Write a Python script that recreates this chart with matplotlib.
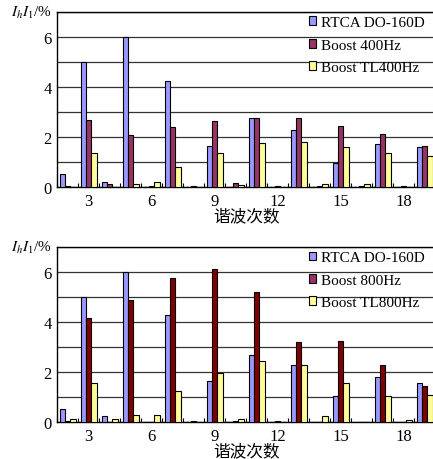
import matplotlib
matplotlib.use("Agg")
import matplotlib.pyplot as plt
from matplotlib.patches import Patch
import numpy as np

plt.rcParams['font.family'] = ['Liberation Serif', 'DejaVu Serif']
plt.rcParams['mathtext.fontset'] = 'stix'

harmonics = list(range(2, 20))
tick_labels = [3, 6, 9, 12, 15, 18]

rtca = [0.52, 4.98, 0.2, 6.0, 0.02, 4.25, 0.02, 1.64, 0.02, 2.77, 0.02, 2.28, 0.02, 0.98, 0.02, 1.71, 0.02, 1.6]
boost400 = [0.03, 2.67, 0.12, 2.07, 0.03, 2.4, 0.03, 2.63, 0.18, 2.77, 0.03, 2.77, 0.03, 2.44, 0.03, 2.13, 0.03, 1.66]
tl400 = [0.0, 1.36, 0.02, 0.12, 0.21, 0.81, 0.02, 1.36, 0.1, 1.77, 0.0, 1.81, 0.12, 1.6, 0.12, 1.36, 0.0, 1.24]

rtca_b = [0.52, 4.99, 0.23, 6.0, 0.02, 4.29, 0.0, 1.65, 0.0, 2.68, 0.0, 2.29, 0.0, 1.04, 0.0, 1.79, 0.0, 1.55]
boost800 = [0.05, 4.16, 0.02, 4.9, 0.02, 5.75, 0.05, 6.12, 0.05, 5.21, 0.05, 3.19, 0.0, 3.25, 0.0, 2.28, 0.0, 1.43]
tl800 = [0.12, 1.55, 0.12, 0.29, 0.29, 1.25, 0.0, 1.96, 0.12, 2.45, 0.0, 2.29, 0.23, 1.55, 0.0, 1.04, 0.1, 1.08]

labels_top = ['RTCA DO-160D', 'Boost 400Hz', 'Boost TL400Hz']
labels_bot = ['RTCA DO-160D', 'Boost 800Hz', 'Boost TL800Hz']

c_blue = '#9999FF'
c_purple = '#993366'
c_dark = '#800000'
c_yellow = '#FFFF99'

fig = plt.figure(figsize=(4.33, 4.6), dpi=100)
ax1 = fig.add_axes([0.132, 0.591, 0.873, 0.381])
ax2 = fig.add_axes([0.132, 0.080, 0.873, 0.381])

def draw(ax, s1, s2, s3, c2, labels):
    x = np.array(harmonics)
    w = 0.25
    ax.bar(x - w, s1, w, color=c_blue, edgecolor='black', linewidth=0.8, zorder=3)
    ax.bar(x, s2, w, color=c2, edgecolor='black', linewidth=0.8, zorder=3)
    ax.bar(x + w, s3, w, color=c_yellow, edgecolor='black', linewidth=0.8, zorder=3)
    ax.set_xlim(1.5, 19.5)
    ax.set_ylim(0, 7)
    ax.set_yticks([0, 2, 4, 6])
    ax.set_yticks(range(0, 8), minor=True)
    ax.yaxis.grid(True, which='both', color='#333333', linewidth=0.9, zorder=0)
    ax.set_xticks(tick_labels)
    ax.set_xticklabels([str(t) for t in tick_labels])
    ax.set_xticks(np.arange(1.5, 20, 1), minor=True)
    ax.tick_params(axis='x', which='major', length=0, labelsize=12, pad=4)
    ax.tick_params(axis='x', which='minor', direction='in', length=3, width=0.8)
    ax.tick_params(axis='y', which='both', length=0, labelsize=12, pad=4)
    for s in ['left', 'bottom', 'top']:
        ax.spines[s].set_linewidth(1.0)
    ax.spines['right'].set_visible(False)
    ax.set_xlabel('谐波次数', family=['Noto Sans CJK SC'], fontsize=12, labelpad=-1)
    ax.text(-0.015, 1.0, r'$I_hI_1$/%', transform=ax.transAxes, ha='right', va='center', fontsize=11)
    handles = [Patch(facecolor=c_blue, edgecolor='black', linewidth=0.8),
               Patch(facecolor=c_purple, edgecolor='black', linewidth=0.8),
               Patch(facecolor=c_yellow, edgecolor='black', linewidth=0.8)]
    leg = ax.legend(handles, labels, loc='upper left', bbox_to_anchor=(0.665, 0.975),
                    frameon=False, fontsize=11, handlelength=0.5, handleheight=0.5,
                    handletextpad=0.3, labelspacing=0.62, borderpad=0, borderaxespad=0)

draw(ax1, rtca, boost400, tl400, c_purple, labels_top)
draw(ax2, rtca_b, boost800, tl800, c_dark, labels_bot)

fig.savefig('out.png', dpi=100)
